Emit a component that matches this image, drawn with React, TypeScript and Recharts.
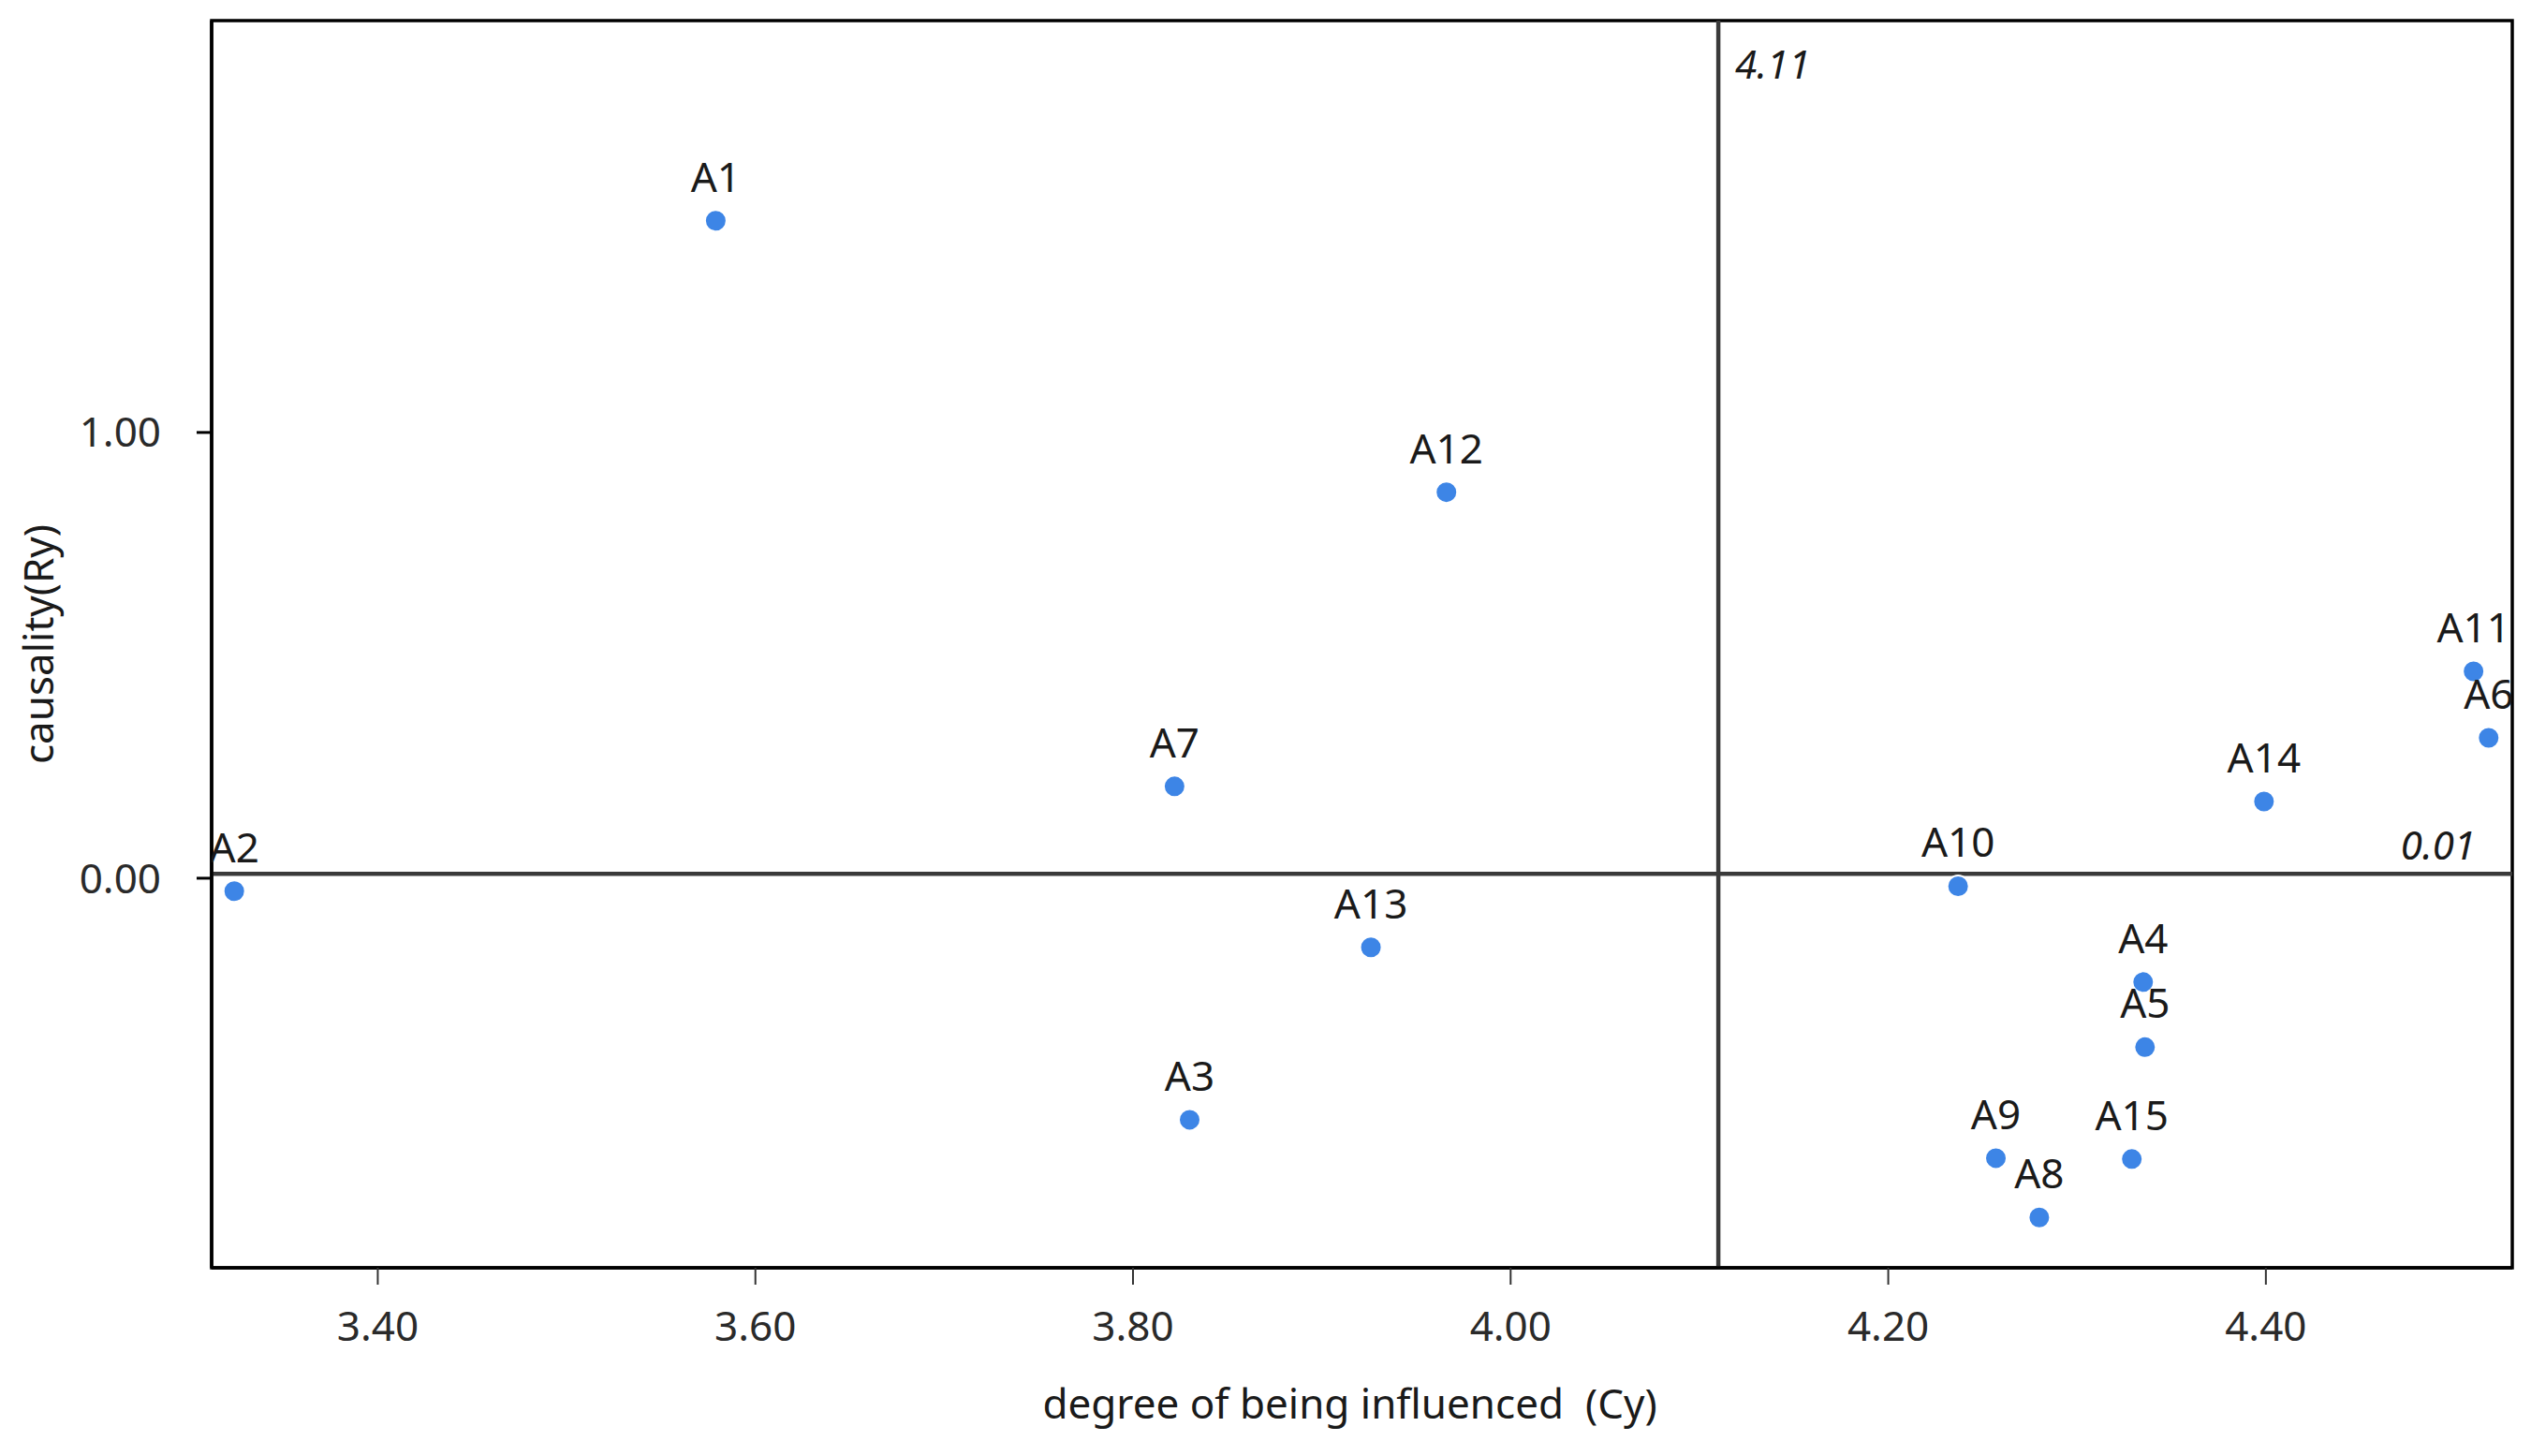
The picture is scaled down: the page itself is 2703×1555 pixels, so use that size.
import React from "react";
import {
  ScatterChart,
  Scatter,
  XAxis,
  YAxis,
  ZAxis,
  ReferenceLine,
  ReferenceArea,
  Label,
} from "recharts";

// factors and their DEMATEL values
const names = ["A1", "A2", "A3", "A4", "A5", "A6", "A7", "A8", "A9", "A10", "A11", "A12", "A13", "A14", "A15"];
const cyValues = [3.579, 3.324, 3.83, 4.335, 4.336, 4.518, 3.822, 4.28, 4.257, 4.237, 4.51, 3.966, 3.926, 4.399, 4.329];
const ryValues = [1.475, -0.029, -0.542, -0.233, -0.379, 0.315, 0.206, -0.761, -0.628, -0.018, 0.464, 0.866, -0.155, 0.172, -0.63];

const xTicks = [3.4, 3.6, 3.8, 4.0, 4.2, 4.4];
const yTicks = [0, 1];
const xDomain = [3.312, 4.5305];
const yDomain = [-0.874, 1.924];
const meanCy = 4.11;
const meanRy = 0.01;

const data = names.map((name, i) => ({ name, cy: cyValues[i], ry: ryValues[i] }));

const FONT = "'Noto Sans', 'Open Sans', sans-serif";
const DOT = "#3d85e6";

const Dot = (props: any) => {
  const { cx, cy } = props;
  if (cx == null || cy == null) return null;
  return <circle cx={cx} cy={cy} r={11.5} fill={DOT} stroke="#fff" strokeWidth={2} />;
};

const PointLabel = (props: any) => {
  const { cx, cy, payload } = props;
  if (cx == null || cy == null) return null;
  return (
    <text x={cx} y={cy - 31} textAnchor="middle" fontSize={44} fontFamily={FONT} fill="#1a1a1a">
      {payload.name}
    </text>
  );
};

export default function App() {
  return (
    <div style={{ width: 2687, height: 1539, background: "#fff" }}>
      <ScatterChart
        width={2687}
        height={1539}
        margin={{ top: 14, right: 12, bottom: 0, left: 0 }}
        style={{ fontFamily: FONT }}
      >
        <XAxis
          type="number"
          dataKey="cy"
          domain={xDomain}
          ticks={xTicks}
          allowDataOverflow
          height={193}
          tickFormatter={(v) => v.toFixed(2)}
          tick={{ fill: "#2a2a2a", fontSize: 44, fontFamily: FONT }}
          tickSize={18}
          tickMargin={29}
          tickLine={{ stroke: "#333", strokeWidth: 2 }}
          axisLine={{ stroke: "#000", strokeWidth: 3.5 }}
        >
          <Label
            content={(p: any) => {
              const vb = p.viewBox || {};
              return (
                <text
                  x={vb.x + vb.width / 2 - 13}
                  y={vb.y + 161}
                  textAnchor="middle"
                  fontSize={44}
                  fontFamily={FONT}
                  fill="#1a1a1a"
                  style={{ whiteSpace: "pre" }}
                >
                  {"degree of being influenced  (Cy)"}
                </text>
              );
            }}
          />
        </XAxis>
        <YAxis
          type="number"
          dataKey="ry"
          domain={yDomain}
          ticks={yTicks}
          allowDataOverflow
          width={218}
          tickFormatter={(v) => v.toFixed(2)}
          tick={{ fill: "#2a2a2a", fontSize: 44, fontFamily: FONT }}
          tickSize={16}
          tickMargin={38}
          tickLine={{ stroke: "#000", strokeWidth: 3 }}
          axisLine={{ stroke: "#000", strokeWidth: 3.5 }}
        >
          <Label
            content={(p: any) => {
              const vb = p.viewBox || {};
              const x = 32;
              const y = vb.y + vb.height / 2;
              return (
                <text
                  x={x}
                  y={y}
                  transform={`rotate(-90, ${x}, ${y})`}
                  textAnchor="middle"
                  dominantBaseline="central"
                  fontSize={44}
                  fontFamily={FONT}
                  fill="#1a1a1a"
                >
                  causality(Ry)
                </text>
              );
            }}
          />
        </YAxis>
        <ZAxis range={[400, 400]} />
        <ReferenceArea
          x1={xDomain[0]}
          x2={xDomain[1]}
          y1={yDomain[0]}
          y2={yDomain[1]}
          fill="none"
          stroke="#000"
          strokeWidth={3.5}
          fillOpacity={0}
        />
        <ReferenceLine
          x={meanCy}
          stroke="#3a3a3a"
          strokeWidth={4.5}
          label={(p: any) => {
            const vb = p.viewBox || {};
            return (
              <text x={vb.x + 18} y={vb.y + 62} fontSize={42} fontStyle="italic" fontFamily={FONT} fill="#1a1a1a">
                {meanCy.toFixed(2)}
              </text>
            );
          }}
        />
        <ReferenceLine
          y={meanRy}
          stroke="#3a3a3a"
          strokeWidth={4.5}
          label={(p: any) => {
            const vb = p.viewBox || {};
            return (
              <text
                x={vb.x + vb.width - 39}
                y={vb.y - 15}
                textAnchor="end"
                fontSize={42}
                fontStyle="italic"
                fontFamily={FONT}
                fill="#1a1a1a"
              >
                {meanRy.toFixed(2)}
              </text>
            );
          }}
        />
        <Scatter data={data} shape={<Dot />} isAnimationActive={false} />
        <Scatter data={data} shape={<PointLabel />} isAnimationActive={false} />
      </ScatterChart>
    </div>
  );
}
